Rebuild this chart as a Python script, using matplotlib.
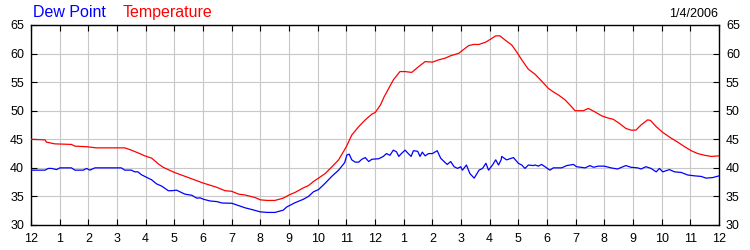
import matplotlib
matplotlib.use("Agg")
import matplotlib.pyplot as plt

# Hours after midnight
temp_hours = [0, 0.49, 0.54, 0.83, 1.41, 1.53, 1.94, 2.28, 3.27, 3.5, 3.79, 3.97,
              4.21, 4.44, 4.61, 5.0, 5.49, 6.0, 6.48, 6.77, 7.0, 7.24, 7.47, 7.82, 8.0, 8.24,
              8.51, 8.8, 9.0, 9.21, 9.5, 9.68, 9.85, 10.03, 10.26, 10.49, 10.73, 11.0, 11.19,
              11.43, 11.66, 11.89, 12.01, 12.19, 12.31, 12.64, 12.87, 13.05, 13.28, 13.52,
              13.75, 14.0, 14.22, 14.45, 14.63, 14.92, 15.1, 15.27, 15.45, 15.63, 15.86, 16.04,
              16.21, 16.36, 16.53, 16.77, 16.94, 17.12, 17.35, 17.58, 17.81, 18.05, 18.22,
              18.4, 18.63, 18.8, 18.98, 19.27, 19.44, 19.67, 19.91, 20.14, 20.31, 20.52, 20.75,
              20.93, 21.1, 21.28, 21.51, 21.61, 21.81, 22.04, 22.33, 22.56, 22.8, 23.03, 23.26,
              23.5, 23.73, 24.0]
temperature = [45.0, 44.9, 44.5, 44.2, 44.1, 43.8, 43.7, 43.5, 43.5, 43.1, 42.5, 42.1,
               41.7, 40.7, 40.1, 39.2, 38.3, 37.35, 36.6, 36.0, 35.9, 35.4, 35.25, 34.8, 34.4, 34.3,
               34.3, 34.7, 35.25, 35.7, 36.5, 36.9, 37.6, 38.2, 39.0, 40.15, 41.4, 43.7, 45.75,
               47.2, 48.4, 49.4, 49.7, 51.0, 52.35, 55.4, 56.85, 56.85, 56.7, 57.7,
               58.6, 58.5, 58.9, 59.2, 59.6, 60.05, 60.75, 61.4, 61.6, 61.6, 62.0, 62.55,
               63.1, 63.1, 62.4, 61.5, 60.3, 58.9, 57.25, 56.4, 55.2, 53.9, 53.3,
               52.75, 51.9, 51.0, 50.0, 50.0, 50.4, 49.8, 49.1, 48.7, 48.5, 47.8, 46.9,
               46.6, 46.6, 47.5, 48.4, 48.3, 47.2, 46.2, 45.2, 44.5, 43.7, 43.0, 42.5,
               42.2, 42.0, 42.1]

dew_hours = [0, 0.49, 0.6, 0.72, 0.89, 1.01, 1.41, 1.53, 1.82, 1.94, 2.05, 2.23, 3.15,
             3.27, 3.5, 3.62, 3.73, 3.85, 3.97, 4.21, 4.38, 4.56, 4.79, 4.91, 5.08, 5.2, 5.37,
             5.61, 5.78, 5.9, 6.02, 6.25, 6.48, 6.66, 7.01, 7.24, 7.47, 7.71, 8.0, 8.24,
             8.51, 8.8, 8.92, 9.21, 9.5, 9.68, 9.85, 10.03, 10.26, 10.49, 10.73, 10.94, 11.02,
             11.1, 11.19, 11.31, 11.43, 11.54, 11.66, 11.78, 11.89, 12.13, 12.29, 12.4, 12.52,
             12.64, 12.75, 12.83, 12.92, 13.05, 13.16, 13.26, 13.34, 13.49, 13.57, 13.65, 13.75,
             13.87, 14.0, 14.17, 14.29, 14.41, 14.52, 14.64, 14.76, 14.88, 14.99, 15.05, 15.19,
             15.31, 15.46, 15.63, 15.75, 15.87, 15.96, 16.1, 16.21, 16.31, 16.4, 16.42, 16.59,
             16.83, 17.0, 17.12, 17.23, 17.35, 17.52, 17.58, 17.7, 17.81, 17.93, 18.1, 18.22,
             18.51, 18.69, 18.92, 19.03, 19.33, 19.5, 19.62, 19.79, 20.0, 20.23, 20.46, 20.75,
             20.93, 21.16, 21.28, 21.45, 21.63, 21.81, 21.92, 22.04, 22.27, 22.45, 22.68, 22.91,
             23.15, 23.38, 23.55, 23.78, 24.0]
dew_point = [39.6, 39.6, 39.9, 39.9, 39.7, 40.0, 40.0, 39.6, 39.6, 39.9, 39.6, 40.0, 40.0,
             39.6, 39.6, 39.3, 39.3, 38.8, 38.5, 37.9, 37.2, 36.8, 36.0, 36.0, 36.1, 35.8, 35.4,
             35.2, 34.7, 34.75, 34.5, 34.2, 34.1, 33.85, 33.8, 33.4, 33.0, 32.7, 32.3, 32.2,
             32.2, 32.6, 33.15, 33.9, 34.5, 35.0, 35.8, 36.2, 37.3, 38.5, 39.6, 40.9, 42.25,
             42.4, 41.4, 41.0, 41.0, 41.5, 41.8, 41.1, 41.5, 41.6, 42.0, 42.5, 42.2,
             43.1, 42.8, 42.0, 42.5, 43.1, 42.5, 42.0, 43.0, 42.9, 42.0, 42.75, 42.1,
             42.5, 42.5, 43.0, 41.7, 41.1, 40.6, 41.1, 40.2, 39.9, 40.2, 39.6, 40.5,
             39.0, 38.2, 39.6, 39.9, 40.8, 39.6, 40.5, 41.4, 40.5, 41.4, 42.0, 41.4,
             41.8, 40.8, 40.5, 39.9, 40.5, 40.4, 40.5, 40.3, 40.6, 40.2, 39.6, 40.0,
             40.0, 40.4, 40.6, 40.2, 40.0, 40.4, 40.1, 40.3, 40.3, 40.0, 39.8, 40.4,
             40.1, 40.0, 39.8, 40.2, 39.9, 39.3, 39.9, 39.3, 39.7, 39.3, 39.2, 38.75,
             38.6, 38.5, 38.2, 38.3, 38.6]

x_tick_labels = ["12", "1", "2", "3", "4", "5", "6", "7", "8", "9", "10", "11",
                 "12", "1", "2", "3", "4", "5", "6", "7", "8", "9", "10", "11", "12"]
y_ticks = [30, 35, 40, 45, 50, 55, 60, 65]
date_label = "1/4/2006"

plt.rcParams['font.family'] = ['Liberation Sans', 'DejaVu Sans']

fig = plt.figure(figsize=(7.5, 2.5), dpi=100)
ax = fig.add_axes([31 / 750, 25 / 250, 688 / 750, 200 / 250])

ax.plot(temp_hours, temperature, color="#ff0000", lw=0.9, zorder=3)
ax.plot(dew_hours, dew_point, color="#0000ff", lw=0.9, zorder=3)

ax.set_xlim(0, 24)
ax.set_ylim(30, 65)
ax.set_xticks(range(25))
ax.set_xticklabels(x_tick_labels)
ax.set_yticks(y_ticks)
ax.grid(True, color="#c8c8c8", lw=0.8, zorder=0)
ax.set_axisbelow(True)

ax.tick_params(axis="both", direction="in", length=4, width=0.8, color="black",
               labelsize=9, top=True, right=True, labelright=True)
ax.tick_params(axis="x", pad=6)
ax.tick_params(axis="y", pad=5)
for s in ax.spines.values():
    s.set_color("black")
    s.set_linewidth(1.0)

fig.text(33 / 750, 1 - 17 / 250, "Dew Point", color="#0000ff", fontsize=11.5,
         ha="left", va="baseline")
fig.text(123 / 750, 1 - 17 / 250, "Temperature", color="#ff0000", fontsize=11.5,
         ha="left", va="baseline")
fig.text(718 / 750, 1 - 17 / 250, date_label, color="black", fontsize=9,
         ha="right", va="baseline")

fig.savefig("out.png", dpi=100)
